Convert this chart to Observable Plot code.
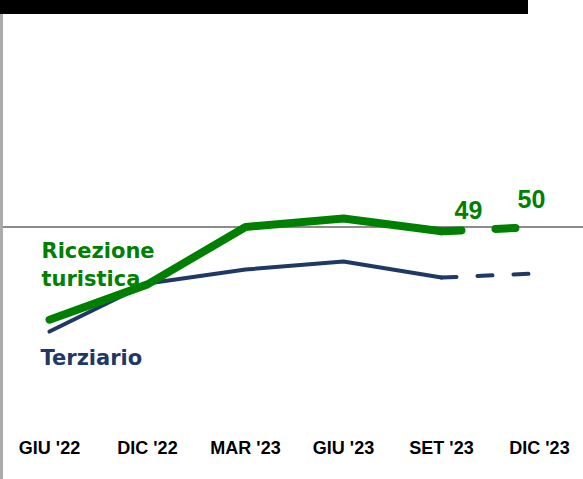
<!DOCTYPE html>
<html>
<head>
<meta charset="utf-8">
<script src="https://cdn.jsdelivr.net/npm/d3@7"></script>
<script src="https://cdn.jsdelivr.net/npm/@observablehq/plot@0.6"></script>
<style>
  body { margin: 0; background: #fff; }
  #bar { width: 528px; height: 14px; background: #000; }
  #wrap { position: relative; width: 583px; height: 465px; }
  #leftline { position: absolute; left: 0; top: 0; width: 3px; height: 465px; background: #ababab; }
</style>
</head>
<body>
<div id="bar"></div>
<div id="wrap"><div id="chart"></div><div id="leftline"></div></div>
<script>
// Data (index, 50 = reference line)
const months = ["GIU '22", "DIC '22", "MAR '23", "GIU '23", "SET '23", "DIC '23"];
const ricezione = [28.2, 36.5, 50.0, 52.0, 49.0, 50.0];
const terziario = [25.4, 36.7, 40.0, 41.9, 38.1, 39.1];
const referenceLevel = 50;
const seriesNames = ["Ricezione\nturistica", "Terziario"];

const green = "#008000";
const navy = "#1f3864";

const rows = (vals) => months.map((m, i) => ({month: m, value: vals[i]}));
const gRows = rows(ricezione);
const nRows = rows(terziario);

const chart = Plot.plot({
  width: 583,
  height: 465,
  marginTop: 0,
  marginBottom: 40,
  marginLeft: 0,
  marginRight: 0,
  style: {fontFamily: "'Liberation Sans', Arial, sans-serif", background: "transparent"},
  x: {type: "point", domain: months, padding: 0, insetLeft: 48, insetRight: 43},
  y: {domain: [0, 100], axis: null},
  marks: [
    Plot.ruleY([referenceLevel], {stroke: "#8c8c8c", strokeWidth: 2}),
    Plot.axisX({tickSize: 0, tickPadding: 2, label: null, fontSize: 18, fontWeight: "bold", fill: "#000", fontFamily: "'Liberation Sans', Arial, sans-serif"}),
    // Terziario
    Plot.line(nRows.slice(0, 5), {x: "month", y: "value", stroke: navy, strokeWidth: 4, strokeLinecap: "round", strokeLinejoin: "round"}),
    Plot.line(nRows.slice(4), {x: "month", y: "value", stroke: navy, strokeWidth: 4, strokeLinecap: "round", strokeDasharray: "15,21"}),
    // Ricezione turistica
    Plot.line(gRows.slice(0, 5), {x: "month", y: "value", stroke: green, strokeWidth: 8, strokeLinecap: "round", strokeLinejoin: "round"}),
    Plot.line(gRows.slice(4), {x: "month", y: "value", stroke: green, strokeWidth: 8, strokeLinecap: "round", strokeDasharray: "20,34"}),
    // value labels
    Plot.text([gRows[4]], {x: "month", y: "value", text: d => String(Math.round(d.value)), fill: green, fontSize: 25, fontWeight: "bold", textAnchor: "middle", lineAnchor: "bottom", dx: 27, dy: -12}),
    Plot.text([gRows[5]], {x: "month", y: "value", text: d => String(Math.round(d.value)), fill: green, fontSize: 25, fontWeight: "bold", textAnchor: "middle", lineAnchor: "bottom", dx: -8, dy: -19}),
    // series labels
    Plot.text([gRows[0]], {x: "month", y: "value", text: () => seriesNames[0], fill: green, fontSize: 21, fontWeight: "bold", fontFamily: "'DejaVu Sans', sans-serif", textAnchor: "start", lineAnchor: "bottom", lineHeight: 1.333, dx: -8, dy: -34}),
    Plot.text([nRows[0]], {x: "month", y: "value", text: () => seriesNames[1], fill: navy, fontSize: 21, fontWeight: "bold", fontFamily: "'DejaVu Sans', sans-serif", textAnchor: "start", lineAnchor: "bottom", dx: -9, dy: 33})
  ]
});
document.getElementById("chart").appendChild(chart);
</script>
</body>
</html>
